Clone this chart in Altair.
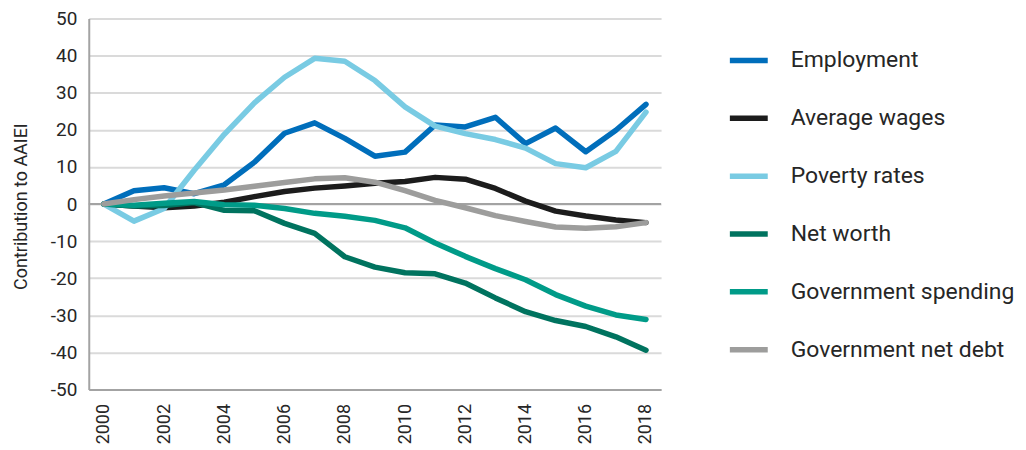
import pandas as pd
import altair as alt

# ── data ─────────────────────────────────────────────────────────────────────

years = list(range(2000, 2019))

series_names = [
    "Employment",
    "Average wages",
    "Poverty rates",
    "Net worth",
    "Government spending",
    "Government net debt",
]

employment = [0, 3.6, 4.4, 2.8, 5.2, 11.3, 19.1, 21.9, 17.7, 12.9,
              14.0, 21.3, 20.8, 23.4, 16.3, 20.5, 14.1, 19.9, 26.9]
average_wages = [0, -0.5, -1.0, -0.5, 0.5, 2.0, 3.4, 4.3, 4.9, 5.6,
                 6.1, 7.2, 6.7, 4.2, 0.8, -1.9, -3.2, -4.3, -5.0]
poverty_rates = [0, -4.6, -1.2, 9.1, 18.8, 27.3, 34.2, 39.3, 38.5, 33.3,
                 26.2, 21.0, 19.0, 17.4, 15.1, 10.9, 9.8, 14.2, 24.8]
net_worth = [0, -0.5, -0.4, 0.4, -1.7, -1.8, -5.2, -7.9, -14.2, -17.0,
             -18.5, -18.8, -21.3, -25.3, -29.0, -31.4, -33.0, -35.8, -39.4]
gov_spending = [0, -0.3, 0.2, 0.7, -0.2, -0.3, -1.2, -2.5, -3.3, -4.4,
                -6.4, -10.5, -14.1, -17.4, -20.4, -24.4, -27.5, -29.9, -31.1]
gov_net_debt = [0, 1.2, 2.2, 3.0, 3.8, 4.8, 5.8, 6.8, 7.1, 5.9,
                3.6, 1.0, -1.0, -3.1, -4.7, -6.2, -6.5, -6.1, -5.0]

y_ticks = [-50, -40, -30, -20, -10, 0, 10, 20, 30, 40, 50]
x_ticks = [2000, 2002, 2004, 2006, 2008, 2010, 2012, 2014, 2016, 2018]
zero_line = [0]

# ── palette ──────────────────────────────────────────────────────────────────

COLOURS = ["#006EBB", "#1C1C1C", "#79CBE3", "#00735F", "#009B88", "#9D9D9C"]
TEXT = "#262626"
GRID = "#DADADA"
AXIS = "#A3A3A3"

# ── long table ───────────────────────────────────────────────────────────────

all_series = [employment, average_wages, poverty_rates,
              net_worth, gov_spending, gov_net_debt]
rows = []
for name, values in zip(series_names, all_series):
    for yr, v in zip(years, values):
        rows.append({"year": yr, "value": v, "series": name})
df = pd.DataFrame(rows)

x_enc = alt.X(
    "year:O",
    scale=alt.Scale(type="point", padding=0.5),
    axis=alt.Axis(
        values=x_ticks, title=None, labelAngle=-90, ticks=False,
        labelPadding=14, labelFontSize=18, labelColor=TEXT,
        domainColor=AXIS, domainWidth=2, grid=False,
    ),
)
y_scale = alt.Scale(domain=[-50, 50], nice=False)
# same axis on both layers so the shared axis keeps every label
y_axis = alt.Axis(
    values=y_ticks, title="Contribution to AAIEI", ticks=False,
    labelExpr="'' + datum.value", labelOverlap=False,
    labelPadding=12, labelFontSize=19, labelColor=TEXT,
    titleFontSize=18, titleFontWeight="normal", titleColor=TEXT,
    titlePadding=20, titleY=188, domainColor=AXIS, domainWidth=2,
    gridColor=GRID, gridWidth=2,
)

lines = (
    alt.Chart(df)
    .mark_line(strokeWidth=5.5, strokeCap="round", strokeJoin="round")
    .encode(
        x=x_enc,
        y=alt.Y("value:Q", scale=y_scale, axis=y_axis),
        color=alt.Color(
            "series:N",
            scale=alt.Scale(domain=series_names, range=COLOURS),
            sort=series_names,
            legend=alt.Legend(
                orient="none", legendX=640, legendY=20, title=None,
                symbolType="stroke", symbolSize=1444, symbolStrokeWidth=5.5,
                labelFontSize=23, labelOffset=20, rowPadding=24,
                labelColor=TEXT, labelLimit=400,
            ),
        ),
        order=alt.Order("year:O"),
    )
)

zero = (
    alt.Chart(pd.DataFrame({"v": zero_line}))
    .mark_rule(color=AXIS, strokeWidth=2)
    .encode(y=alt.Y("v:Q", scale=y_scale, axis=y_axis))
)

chart = (
    alt.layer(zero, lines)
    .properties(
        width=574, height=372,
        autosize=alt.AutoSizeParams(type="none"),
        padding={"left": 81, "top": 10, "right": 358, "bottom": 58},
    )
    .configure(font="Roboto")
    .configure_view(stroke=None)
)

chart.save("out.html", embed_options={"renderer": "svg", "actions": False})
